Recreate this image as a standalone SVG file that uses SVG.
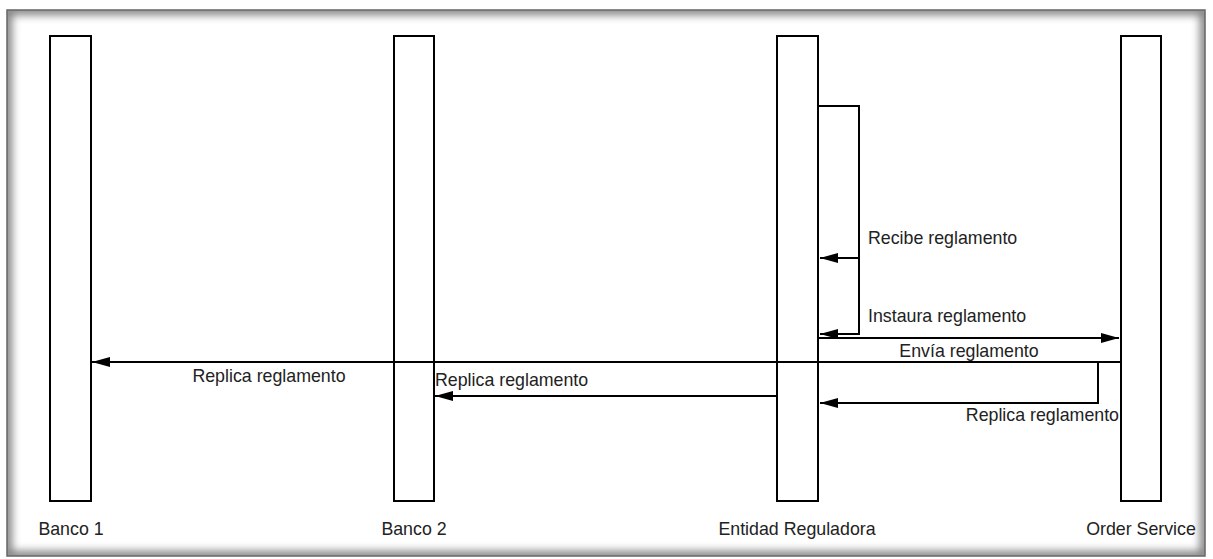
<svg xmlns="http://www.w3.org/2000/svg" width="1213" height="559" viewBox="0 0 1213 559">
<defs>
<clipPath id="frameClip"><rect x="7" y="10" width="1198" height="546"/></clipPath>
<filter id="blur" x="-5%" y="-5%" width="110%" height="110%"><feGaussianBlur stdDeviation="4"/></filter>
<marker id="arr" viewBox="0 0 18 10" refX="18" refY="5" markerWidth="18" markerHeight="10" markerUnits="userSpaceOnUse" orient="auto">
<path d="M0,0 L18,5 L0,10 Z" fill="#000"/>
</marker>
</defs>
<style>
.life{fill:#fff;stroke:#000;stroke-width:2}
.conn{fill:none;stroke:#000;stroke-width:2}
.lbl{font-family:"Liberation Sans",Arial,sans-serif;font-size:17.8px;fill:#222}
</style>
<rect x="0" y="0" width="1213" height="559" fill="#fff"/>
<g id="frame">
<rect x="7" y="10" width="1198" height="546" fill="#fff"/>
<g clip-path="url(#frameClip)">
<rect x="7" y="10" width="1198" height="546" fill="none" stroke="#000" stroke-opacity="0.5" stroke-width="10" filter="url(#blur)"/>
</g>
<rect x="7" y="10" width="1198" height="546" fill="none" stroke="#666" stroke-width="1.5"/>
</g>
<g id="banco1">
<rect class="life" x="50" y="36" width="41" height="465"/>
<text class="lbl" x="71" y="535" text-anchor="middle">Banco 1</text>
</g>
<g id="banco2">
<rect class="life" x="394" y="36" width="40" height="465"/>
<text class="lbl" x="414" y="535" text-anchor="middle">Banco 2</text>
</g>
<g id="entidad">
<rect class="life" x="777" y="36" width="41" height="465"/>
<text class="lbl" x="797" y="535" text-anchor="middle">Entidad Reguladora</text>
</g>
<g id="order">
<rect class="life" x="1121" y="36" width="40" height="465"/>
<text class="lbl" x="1141" y="535" text-anchor="middle">Order Service</text>
</g>
<g id="connectors">
<path class="conn" d="M818,106 H859 V334 H820" marker-end="url(#arr)"/>
<path class="conn" d="M859,258 H820" marker-end="url(#arr)"/>
<path class="conn" d="M818,338 H1119" marker-end="url(#arr)"/>
<path class="conn" d="M1121,362 H92" marker-end="url(#arr)"/>
<path class="conn" d="M1098,362 V403 H820" marker-end="url(#arr)"/>
<path class="conn" d="M777,396 H435" marker-end="url(#arr)"/>
<text class="lbl" x="868" y="244">Recibe reglamento</text>
<text class="lbl" x="868" y="322">Instaura reglamento</text>
<text class="lbl" x="969" y="357" text-anchor="middle">Envía reglamento</text>
<text class="lbl" x="269" y="382" text-anchor="middle">Replica reglamento</text>
<text class="lbl" x="435" y="386">Replica reglamento</text>
<text class="lbl" x="1119" y="421" text-anchor="end">Replica reglamento</text>
</g>
</svg>
